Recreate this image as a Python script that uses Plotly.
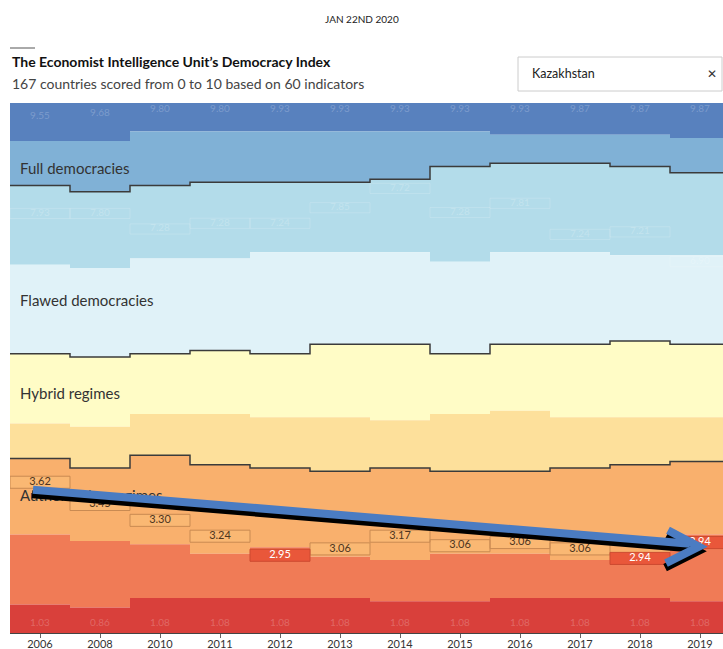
import plotly.graph_objects as go

# ---------------- data ----------------
YEARS = ["2006", "2008", "2010", "2011", "2012", "2013", "2014", "2015", "2016", "2017", "2018", "2019"]
TOTAL = 167
# number of countries scoring at or above each threshold (cumulative from the top)
ABOVE_9 = [12, 12, 9, 9, 9, 9, 9, 9, 10, 10, 10, 11]
ABOVE_8 = [26, 28, 26, 25, 25, 25, 24, 20, 19, 19, 20, 22]
ABOVE_7 = [51, 52, 49, 49, 47, 47, 47, 50, 47, 47, 48, 48]
ABOVE_6 = [79, 80, 79, 78, 79, 76, 76, 79, 76, 76, 75, 76]
ABOVE_5 = [101, 102, 98, 98, 99, 99, 100, 98, 97, 99, 99, 99]
ABOVE_4 = [112, 115, 111, 114, 115, 116, 115, 116, 116, 115, 114, 113]
ABOVE_3 = [136, 138, 139, 142, 140, 143, 144, 142, 142, 144, 142, 136]
ABOVE_2 = [158, 159, 156, 156, 156, 156, 157, 157, 156, 156, 156, 157]

# Kazakhstan: score and rank
KAZ_SCORES = [3.62, 3.45, 3.30, 3.24, 2.95, 3.06, 3.17, 3.06, 3.06, 3.06, 2.94, 2.94]
KAZ_RANK = [120, 127, 132, 137, 143, 141, 137, 140, 139, 141, 144, 139]

# faded labels of other countries
GHOST_TOP_VALUES = ["9.55", "9.68", "9.80", "9.80", "9.93", "9.93", "9.93", "9.93", "9.93", "9.87", "9.87", "9.87"]
GHOST_TOP_RANK = [4.4, 3.2, 2.2, 1.9, 1.9, 1.9, 1.9, 1.9, 1.9, 1.9, 1.9, 1.9]
GHOST_MID_VALUES = ["7.93", "7.80", "7.28", "7.28", "7.24", "7.85", "7.72", "7.28", "7.81", "7.24", "7.21", "6.90"]
GHOST_MID_RANK = [34.8, 34.8, 39.7, 37.9, 37.9, 33.0, 26.9, 34.5, 31.6, 41.4, 40.6, 50.0]
GHOST_LOW_VALUES = ["1.03", "0.86", "1.08", "1.08", "1.08", "1.08", "1.08", "1.08", "1.08", "1.08", "1.08", "1.08"]
GHOST_LOW_RANK = [164.0] * 12

BAND_COLORS = ["#5881be", "#80b1d6", "#b3dcea", "#e0f2f8", "#fffcc6",
               "#fde09b", "#f9b06d", "#f07b56", "#d9403b"]

REGIME_LABELS = ["Full democracies", "Flawed democracies", "Hybrid regimes", "Authoritarian regimes"]
REGIME_LABEL_RANK = [21.1, 62.7, 92.1, 124.2]

FONT = "Lato"
n = len(YEARS)
cols = list(range(n))


def step(vals):
    xs = [i - 0.5 for i in cols] + [n - 0.5]
    ys = list(vals) + [vals[-1]]
    return xs, ys


def boxes(idx, centers, half):
    xs, ys = [], []
    for i in idx:
        c = centers[i]
        xs += [i - 0.5, i + 0.5, i + 0.5, i - 0.5, i - 0.5, None]
        ys += [c - half, c - half, c + half, c + half, c - half, None]
    return xs, ys


fig = go.Figure()

boundaries = [[0] * n, ABOVE_9, ABOVE_8, ABOVE_7, ABOVE_6, ABOVE_5, ABOVE_4, ABOVE_3, ABOVE_2, [TOTAL] * n]
for k, b in enumerate(boundaries):
    xs, ys = step(b)
    if k == 0:
        fig.add_trace(go.Scatter(x=xs, y=ys, mode="lines", line=dict(width=0, shape="hv"),
                                 hoverinfo="skip", showlegend=False))
    else:
        fig.add_trace(go.Scatter(x=xs, y=ys, mode="lines", line=dict(width=0, shape="hv"),
                                 fill="tonexty", fillcolor=BAND_COLORS[k - 1],
                                 hoverinfo="skip", showlegend=False))

# regime boundary lines
for b in [ABOVE_8, ABOVE_6, ABOVE_4]:
    xs, ys = step(b)
    fig.add_trace(go.Scatter(x=xs, y=ys, mode="lines", line=dict(width=1.5, shape="hv", color="#3b3b3b"),
                             hoverinfo="skip", showlegend=False))

# regime labels (drawn as text in the plot so the marks above can cover them)
fig.add_trace(go.Scatter(x=[-0.333] * len(REGIME_LABELS), y=REGIME_LABEL_RANK, mode="text",
                         text=REGIME_LABELS, textposition="middle right",
                         textfont=dict(family=FONT, size=15, color="#333333"),
                         hoverinfo="skip", showlegend=False))

# faded labels
gx, gy = boxes(cols, GHOST_MID_RANK, 1.6)
fig.add_trace(go.Scatter(x=gx, y=gy, mode="lines", line=dict(color="rgba(255,255,255,0.16)", width=1),
                         hoverinfo="skip", showlegend=False))
for vals, ranks in [(GHOST_TOP_VALUES, GHOST_TOP_RANK), (GHOST_MID_VALUES, GHOST_MID_RANK),
                    (GHOST_LOW_VALUES, GHOST_LOW_RANK)]:
    fig.add_trace(go.Scatter(x=cols, y=ranks, mode="text", text=vals,
                             textfont=dict(family=FONT, size=10, color="rgba(255,255,255,0.22)"),
                             hoverinfo="skip", showlegend=False))

# Kazakhstan boxes
centers = [r - 0.5 for r in KAZ_RANK]
half_h = 1.9
low = [i for i in cols if KAZ_SCORES[i] < 3]
high = [i for i in cols if KAZ_SCORES[i] >= 3]
for idx, fillc, edge in [(high, "#fab873", "#c98a52"), (low, "#e9573a", "#cc4a30")]:
    bx, by = boxes(idx, centers, half_h)
    fig.add_trace(go.Scatter(x=bx, y=by, mode="lines", fill="toself", fillcolor=fillc,
                             line=dict(color=edge, width=1), hoverinfo="skip", showlegend=False))
txtc = ["#ffffff" if v < 3 else "#4d3520" for v in KAZ_SCORES]
fig.add_trace(go.Scatter(x=cols, y=centers, mode="text", text=[f"{v:.2f}" for v in KAZ_SCORES],
                         textfont=dict(family=FONT, size=11, color=txtc),
                         hoverinfo="skip", showlegend=False))

# header
W_PLOT = 713.0
H_PLOT = 530.0


def px(xp):
    return (xp - 10) / W_PLOT


def py(yp):
    return (633 - yp) / H_PLOT


annotations = [
    dict(x=px(362), y=py(19), xref="paper", yref="paper", text="JAN 22ND 2020", showarrow=False,
         xanchor="center", yanchor="middle", font=dict(family=FONT, size=10, color="#222222")),
    dict(x=0, y=py(62), xref="paper", yref="paper",
         text="<b>The Economist Intelligence Unit\u2019s Democracy Index</b>", showarrow=False,
         xanchor="left", yanchor="middle", font=dict(family=FONT, size=14, color="#111111")),
    dict(x=0, y=py(83), xref="paper", yref="paper",
         text="167 countries scored from 0 to 10 based on 60 indicators", showarrow=False,
         xanchor="left", yanchor="middle", font=dict(family=FONT, size=14, color="#444444")),
    dict(x=px(530), y=py(74), xref="paper", yref="paper", text="Kazakhstan", showarrow=False,
         xanchor="left", yanchor="middle", font=dict(family=FONT, size=12.5, color="#222222")),
    dict(x=px(712), y=py(74), xref="paper", yref="paper", text="\u2715", showarrow=False,
         xanchor="center", yanchor="middle", font=dict(family="DejaVu Sans", size=12, color="#333333")),
]

shapes = [
    dict(type="line", xref="paper", yref="paper", x0=px(10), x1=px(35), y0=py(48), y1=py(48),
         line=dict(color="#555555", width=1)),
    dict(type="rect", xref="paper", yref="paper", x0=px(518), x1=px(722), y0=py(91), y1=py(57),
         line=dict(color="#cccccc", width=1), fillcolor="white"),
]

# hand-drawn arrow annotation (data coordinates)
ARROW_SHAFT = [(-0.117, 121.85), (10.833, 138.87)]
ARROW_HEAD = [(10.467, 134.6), (10.983, 139.8), (10.433, 145.0)]


def path(pts, dx=0.0, dy=0.0):
    return "M " + " L ".join(f"{x + dx},{y + dy}" for x, y in pts)


for color, dx, dy in [("#000000", -0.015, 1.4), ("#4b7cc2", 0, 0)]:
    shapes.append(dict(type="path", xref="x", yref="y", path=path(ARROW_SHAFT, dx, dy),
                       line=dict(color=color, width=8)))
    shapes.append(dict(type="path", xref="x", yref="y", path=path(ARROW_HEAD, dx, dy),
                       line=dict(color=color, width=8)))

fig.update_layout(
    width=723, height=649,
    margin=dict(l=10, r=0, t=103, b=16, autoexpand=False),
    paper_bgcolor="white", plot_bgcolor="white",
    showlegend=False, hovermode=False,
    annotations=annotations, shapes=shapes,
    xaxis=dict(range=[-0.5, -0.5 + W_PLOT / 60.0], tickmode="array", tickvals=cols, ticktext=YEARS,
               ticks="outside", ticklen=4, tickcolor="#666666", showgrid=False, zeroline=False,
               showline=True, linecolor="#444444", linewidth=1, ticklabelstandoff=-3,
               tickfont=dict(family=FONT, size=11, color="#333333"), fixedrange=True),
    yaxis=dict(range=[TOTAL, 0], showgrid=False, zeroline=False, showticklabels=False, ticks="",
               fixedrange=True),
)

fig.write_html("out.html", config={"displayModeBar": False},
               post_script="document.body.style.margin='0';document.body.style.overflow='hidden';")
